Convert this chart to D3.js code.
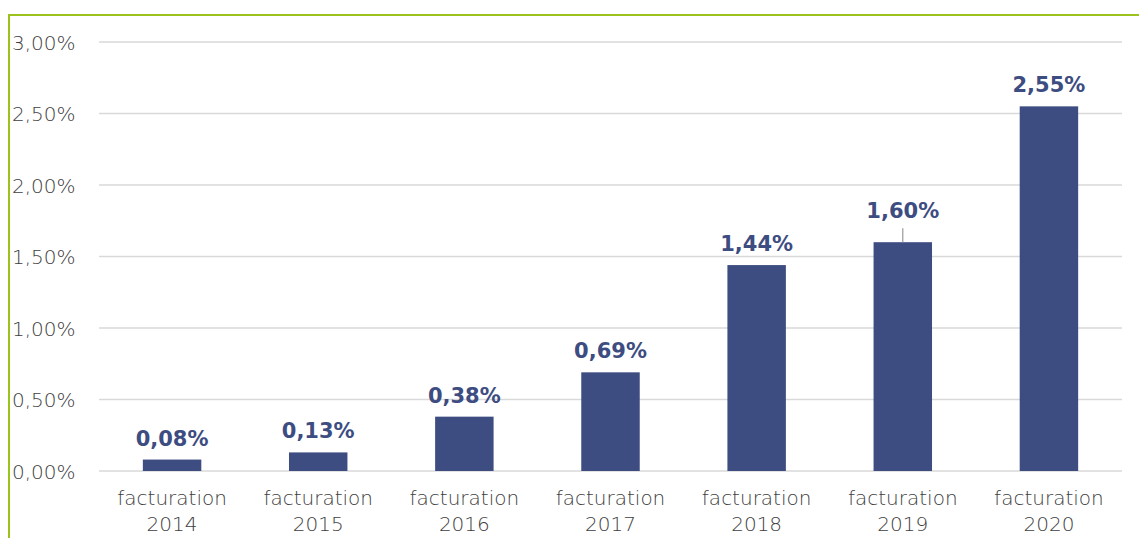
<!DOCTYPE html>
<html>
<head>
<meta charset="utf-8">
<script src="https://cdn.jsdelivr.net/npm/d3@7"></script>
<style>
  body { margin: 0; background: #fff; }
  svg { display: block; }
</style>
</head>
<body>
<svg width="1139" height="538"></svg>
<script>
// Data
const years = ['2014', '2015', '2016', '2017', '2018', '2019', '2020'];
const values = [0.08, 0.13, 0.38, 0.69, 1.44, 1.60, 2.55];
const labels = ['0,08%', '0,13%', '0,38%', '0,69%', '1,44%', '1,60%', '2,55%'];
const ticks = [0, 0.5, 1, 1.5, 2, 2.5, 3];

let svg = d3.select('svg');
let width = +svg.attr('width');
let height = +svg.attr('height');

// Plot area
let plotLeft = 99, plotRight = 1122, plotTop = 42, plotBottom = 471;

let x = d3.scaleBand()
  .domain(years)
  .range([plotLeft, plotRight])
  .paddingInner(0.6)
  .paddingOuter(0.3);

let y = d3.scaleLinear()
  .domain([0, 3])
  .range([plotBottom, plotTop]);

let fmt = v => v.toFixed(2).replace('.', ',') + '%';
let font = '"DejaVu Sans", sans-serif';

// Green frame (top and left only visible)
svg.append('path')
  .attr('d', `M9,${height} V15 H${width}`)
  .attr('fill', 'none')
  .attr('stroke', '#9BC31C')
  .attr('stroke-width', 2);

// Gridlines
svg.append('g')
  .selectAll('line')
  .data(ticks)
  .enter().append('line')
    .attr('x1', plotLeft)
    .attr('x2', plotRight)
    .attr('y1', d => y(d))
    .attr('y2', d => y(d))
    .attr('stroke', '#d9d9d9')
    .attr('stroke-width', 1.5);

// Y tick labels
svg.append('g')
  .selectAll('text')
  .data(ticks)
  .enter().append('text')
    .attr('x', 12)
    .attr('y', d => y(d) + 7.5)
    .attr('font-family', font)
    .attr('font-weight', 300)
    .attr('font-size', 20)
    .attr('fill', '#404040')
    .text(fmt);

// Bars
svg.append('g')
  .selectAll('rect')
  .data(values)
  .enter().append('rect')
    .attr('x', (d, i) => x(years[i]))
    .attr('width', x.bandwidth())
    .attr('y', d => y(d))
    .attr('height', d => y(0) - y(d))
    .attr('fill', '#3D4C81');

// Value labels (1,60% is lifted with a leader line)
let lift = [0, 0, 0, 0, 0, 10, 0];

svg.append('g')
  .selectAll('line')
  .data(values.filter((d, i) => lift[i] > 0))
  .enter().append('line')
    .attr('x1', d => x(years[values.indexOf(d)]) + x.bandwidth() / 2)
    .attr('x2', d => x(years[values.indexOf(d)]) + x.bandwidth() / 2)
    .attr('y1', d => y(d))
    .attr('y2', d => y(d) - 14)
    .attr('stroke', '#999')
    .attr('stroke-width', 1.2);

svg.append('g')
  .selectAll('text')
  .data(values)
  .enter().append('text')
    .attr('x', (d, i) => x(years[i]) + x.bandwidth() / 2)
    .attr('y', (d, i) => y(d) - 14 - lift[i])
    .attr('text-anchor', 'middle')
    .attr('font-family', font)
    .attr('font-weight', 'bold')
    .attr('font-size', 21)
    .attr('fill', '#3D4C81')
    .text((d, i) => labels[i]);

// Category labels
let cat = svg.append('g')
  .selectAll('text')
  .data(years)
  .enter().append('text')
    .attr('x', d => x(d) + x.bandwidth() / 2)
    .attr('text-anchor', 'middle')
    .attr('font-family', font)
    .attr('font-weight', 300)
    .attr('font-size', 20)
    .attr('fill', '#404040');

cat.append('tspan')
  .attr('x', d => x(d) + x.bandwidth() / 2)
  .attr('y', 505)
  .text('facturation');

cat.append('tspan')
  .attr('x', d => x(d) + x.bandwidth() / 2)
  .attr('y', 531)
  .text(d => d);
</script>
</body>
</html>
